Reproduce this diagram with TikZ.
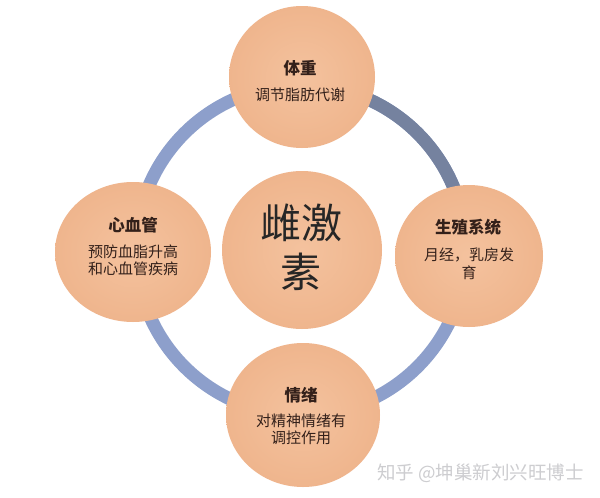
\documentclass[tikz,border=0pt]{standalone}
\usepackage{fontspec}
\newfontfamily\cjk{Noto Sans CJK SC}
\usetikzlibrary{shapes.geometric}
\definecolor{peachin}{HTML}{F4C29E}
\definecolor{peachout}{HTML}{EFB58D}
\definecolor{ringlight}{HTML}{8D9FCB}
\definecolor{ringdark}{HTML}{75829F}
\definecolor{inktext}{HTML}{33201A}
\definecolor{wmark}{HTML}{CDCDD0}
\tikzset{
  bubble/.style={ellipse, draw=none, inner color=peachin, outer color=peachout},
  titletext/.style={font=\cjk\bfseries\fontsize{16.5}{18}\selectfont, text=inktext, inner sep=0pt},
  bodytext/.style={font=\cjk\fontsize{15}{17.5}\selectfont, text=inktext, inner sep=0pt, align=center},
  bigtext/.style={font=\cjk\fontsize{41}{49}\selectfont, text=black!85, inner sep=0pt, align=center},
  ringline/.style={line width=13pt, draw=ringlight},
  ringdarkline/.style={line width=13pt, draw=ringdark}
}
\begin{document}
\begin{tikzpicture}[x=1pt,y=-1pt]
\useasboundingbox (0,0) rectangle (600,498);
\fill[white] (0,0) rectangle (600,498);
% ring
\coordinate (ringc) at (301,250);
\draw[ringline] (ringc) circle[radius=165];
\draw[ringdarkline] ([shift={(-3:165)}]ringc) arc[start angle=-3, end angle=-87, radius=165];
% bubbles
\node[bubble, minimum width=146, minimum height=142] (top) at (302,77) {};
\node[bubble, minimum width=156, minimum height=140] (left) at (133,252) {};
\node[bubble, minimum width=148, minimum height=142] (right) at (469,256) {};
\node[bubble, minimum width=154, minimum height=144] (bottom) at (303,415) {};
\node[bubble, minimum width=160, minimum height=158] (center) at (302,250) {};
% texts
\node[titletext] (toptitle) at (300,68) {体重};
\node[bodytext] (topbody) at (300,95) {调节脂肪代谢};
\node[titletext] (lefttitle) at (133,225) {心血管};
\node[bodytext] (leftbody) at (133,260.5) {预防血脂升高\\和心血管疾病};
\node[titletext] (righttitle) at (468,227) {生殖系统};
\node[bodytext] (rightbody) at (469,264) {月经，乳房发\\育};
\node[titletext] (bottomtitle) at (301,395) {情绪};
\node[bodytext] (bottombody) at (301,429.5) {对精神情绪有\\调控作用};
\node[bigtext] (centertext) at (301,247) {雌激\\素};
% watermark
\node[font=\cjk\fontsize{18.5}{20}\selectfont, text=wmark, inner sep=0pt, anchor=east] (wm) at (584,473) {知乎 @坤巢新刘兴旺博士};
\end{tikzpicture}
\end{document}
